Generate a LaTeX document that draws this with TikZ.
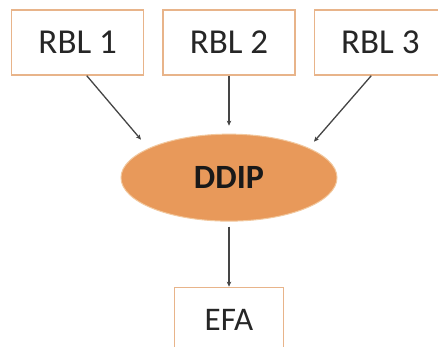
\documentclass[tikz,border=0pt]{standalone}
\usepackage{fontspec}
\setmainfont{Carlito}
\usetikzlibrary{positioning,shapes.geometric,arrows.meta}
\definecolor{boxline}{HTML}{E8B48A}
\definecolor{ddipfill}{HTML}{E8995A}
\definecolor{ddipline}{HTML}{F2C89E}
\definecolor{arrowgray}{HTML}{454545}
\begin{document}
\begin{tikzpicture}[
    rblbox/.style={draw=boxline, line width=1.3pt, minimum width=132pt, minimum height=65pt, inner sep=0pt, text=black!85, font=\fontsize{35}{40}\selectfont},
    feed/.style={-{Stealth[length=5pt,width=4.5pt]}, draw=arrowgray, line width=1.3pt}
  ]
  \clip (0,0) rectangle (438pt,-347pt);
  \fill[white] (0,0) rectangle (438pt,-347pt);
  \matrix[column sep=18pt] at (229pt,-42.5pt) {
    \node[rblbox] (r1) {RBL 1}; & \node[rblbox] (r2) {RBL 2}; & \node[rblbox] (r3) {RBL 3}; \\
  };
  \node[ellipse, fill=ddipfill, draw=ddipline, line width=1pt, minimum width=216pt, minimum height=87pt, inner sep=0pt, text=black!90, font=\bfseries\fontsize{34}{40}\selectfont, below=58pt of r2] (ddip) {DDIP};
  \node[rblbox, minimum width=109pt, font=\fontsize{33}{38}\selectfont, below=65pt of ddip] (efa) {EFA};
  \draw[feed] ([xshift=9pt]r1.south) -- ([shift={(-88pt,38pt)}]ddip.center);
  \draw[feed, shorten >=8pt] (r2.south) -- (r2.south |- ddip.north);
  \draw[feed] ([xshift=-9pt]r3.south) -- ([shift={(85pt,36pt)}]ddip.center);
  \draw[feed, shorten <=5pt] (ddip.south) -- (efa.north);
\end{tikzpicture}
\end{document}
